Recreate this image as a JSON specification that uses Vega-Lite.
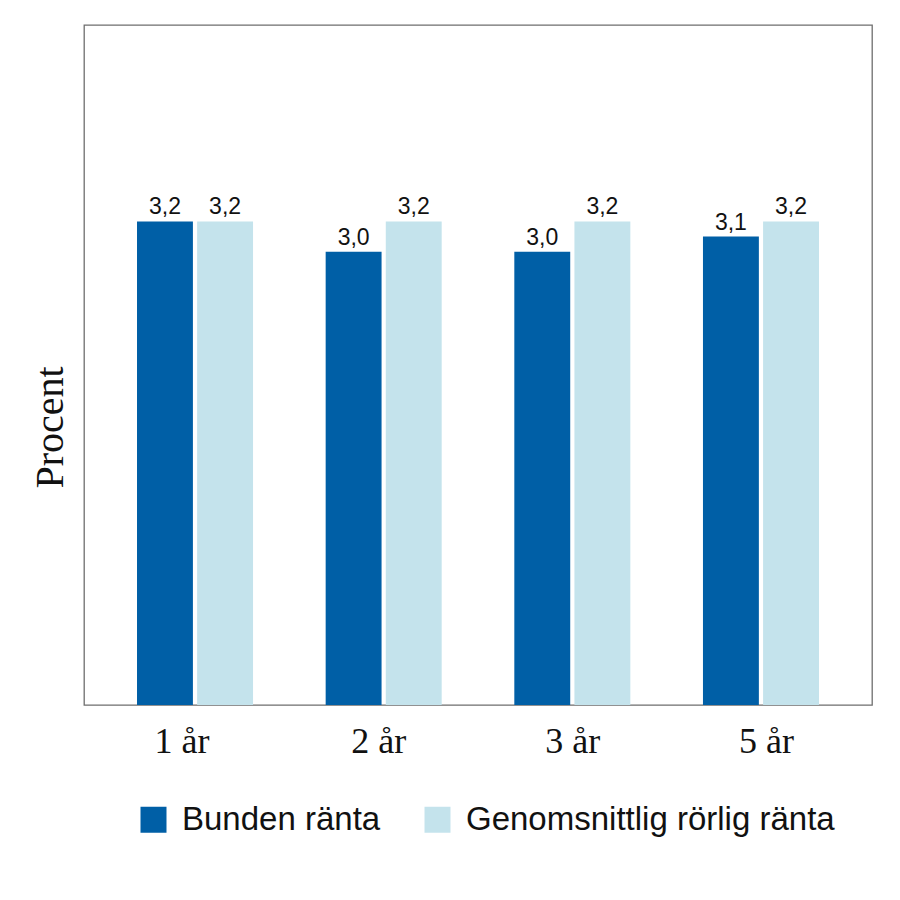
{
  "$schema": "https://vega.github.io/schema/vega-lite/v6.json",
  "width": 788,
  "height": 680,
  "autosize": {"type": "none"},
  "padding": {"left": 84, "top": 25, "right": 28, "bottom": 195},
  "background": "white",
  "config": {
    "locale": {"number": {"decimal": ",", "thousands": " ", "grouping": [3], "currency": ["", " kr"]}},
    "view": {"stroke": "#6e6e6e", "strokeWidth": 1.3}
  },
  "data": {
    "values": [
      {"period": "1 år", "serie": "Bunden ränta", "value": 3.2},
      {"period": "1 år", "serie": "Genomsnittlig rörlig ränta", "value": 3.2},
      {"period": "2 år", "serie": "Bunden ränta", "value": 3.0},
      {"period": "2 år", "serie": "Genomsnittlig rörlig ränta", "value": 3.2},
      {"period": "3 år", "serie": "Bunden ränta", "value": 3.0},
      {"period": "3 år", "serie": "Genomsnittlig rörlig ränta", "value": 3.2},
      {"period": "5 år", "serie": "Bunden ränta", "value": 3.1},
      {"period": "5 år", "serie": "Genomsnittlig rörlig ränta", "value": 3.2}
    ]
  },
  "encoding": {
    "x": {
      "field": "period",
      "type": "nominal",
      "sort": ["1 år", "2 år", "3 år", "5 år"],
      "scale": {"paddingInner": 0.385, "paddingOuter": 0.281},
      "axis": {
        "title": null,
        "domain": false,
        "ticks": false,
        "tickSize": 0,
        "labelAngle": 0,
        "labelFont": "Liberation Serif",
        "labelFontSize": 36,
        "labelColor": "#111111",
        "labelBaseline": "top",
        "labelPadding": 19,
        "labelOffset": {
          "condition": [
            {"test": "datum.value === '1 år'", "value": -13},
            {"test": "datum.value === '2 år'", "value": -5},
            {"test": "datum.value === '5 år'", "value": 5.5}
          ],
          "value": 0.5
        }
      }
    },
    "xOffset": {
      "field": "serie",
      "type": "nominal",
      "sort": ["Bunden ränta", "Genomsnittlig rörlig ränta"],
      "scale": {"paddingInner": 0.07}
    },
    "y": {
      "field": "value",
      "type": "quantitative",
      "scale": {"domain": [0, 4.5], "nice": false},
      "axis": {
        "title": "Procent",
        "domain": false,
        "ticks": false,
        "labels": false,
        "grid": false,
        "titleFont": "Liberation Serif",
        "titleFontSize": 40,
        "titleFontWeight": "normal",
        "titleColor": "#111111",
        "titleAngle": 270,
        "titleAlign": "center",
        "titleBaseline": "middle",
        "titleX": -34,
        "titleY": 402
      }
    }
  },
  "layer": [
    {
      "mark": {"type": "bar"},
      "encoding": {
        "color": {
          "field": "serie",
          "type": "nominal",
          "sort": ["Bunden ränta", "Genomsnittlig rörlig ränta"],
          "scale": {"range": ["#005FA6", "#C4E3EC"]},
          "legend": {
            "title": null,
            "orient": "none",
            "direction": "horizontal",
            "legendX": 53,
            "legendY": 778,
            "symbolType": "square",
            "symbolSize": 676,
            "symbolStrokeWidth": 0,
            "symbolOpacity": 1,
            "labelFont": "Liberation Sans",
            "labelFontSize": 33,
            "labelColor": "#111111",
            "labelOffset": 12,
            "columnPadding": 40,
            "labelLimit": 600
          }
        }
      }
    },
    {
      "mark": {
        "type": "text",
        "font": "Liberation Sans",
        "fontSize": 23,
        "color": "#111111",
        "baseline": "alphabetic",
        "dy": -7
      },
      "encoding": {
        "text": {"field": "value", "type": "quantitative", "format": ".1f"}
      }
    }
  ]
}
